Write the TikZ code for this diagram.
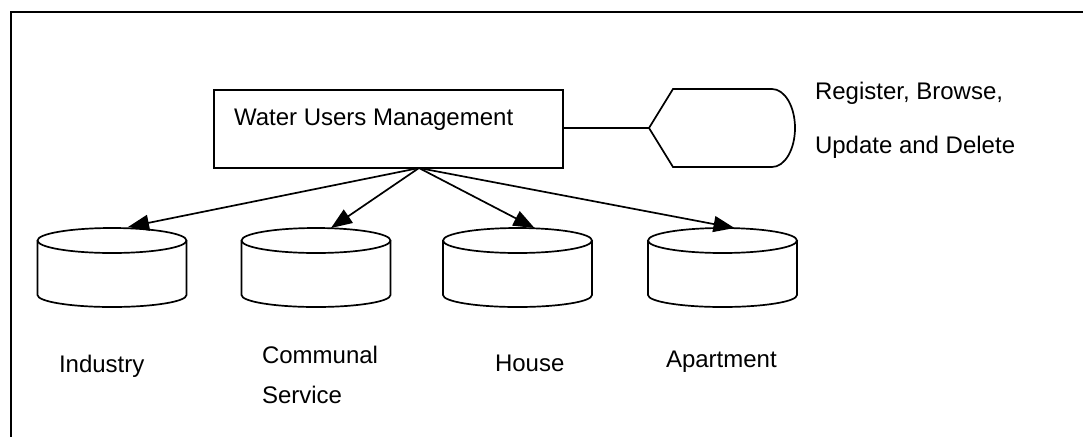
\documentclass[tikz,border=0pt]{standalone}
\usepackage{fontspec}
\setmainfont{Liberation Sans}
\usetikzlibrary{arrows.meta,calc}
\begin{document}
\begin{tikzpicture}[x=1pt,y=1pt,
  every node/.style={inner sep=0pt, outer sep=0pt},
  ln/.style={line width=1.7pt, black},
  lbl/.style={font=\fontsize{24}{28}\selectfont, anchor=west},
  cylbox/.style={minimum width=149pt, minimum height=79pt, draw=none},
  arr/.style={ln, -{Triangle[length=21pt,width=16pt]}}
]
\useasboundingbox (0,0) rectangle (1083,-437);
% frame
\coordinate (fa) at (1083,-12);
\coordinate (fb) at (11,-12);
\coordinate (fc) at (11,-437);
\draw[ln] (fa) -- (fb) -- (fc);

% main box
\node[draw, ln, minimum width=349pt, minimum height=78pt] (wum) at (388.5,-129) {};
\node[lbl] (wumtxt) at (234,-120) {Water Users Management};

% display shape
\node[minimum width=146pt, minimum height=78pt] (disp) at (722,-128) {};
\draw[ln] (disp.west) -- ($(disp.north west)+(24,0)$) -- ($(disp.north east)+(-23,0)$)
  arc[start angle=90, end angle=-90, x radius=23, y radius=39]
  -- ($(disp.south west)+(24,0)$) -- cycle;
\draw[ln] (wum.east |- disp.west) -- (disp.west);

\node[lbl] (t1) at (815,-93) {Register, Browse,};
\node[lbl] (t2) at (815,-147) {Update and Delete};

% cylinders
\foreach \n/\cx in {ind/112, com/316, hou/517.5, apt/722.5}{
  \node[cylbox] (\n) at (\cx,-267.5) {};
  \draw[ln] ($(\n.north)+(0,-12.5)$) ellipse[x radius=74.5, y radius=12.5];
  \draw[ln] ($(\n.north west)+(0,-12.5)$) -- ($(\n.south west)+(0,12)$)
     arc[start angle=180, end angle=360, x radius=74.5, y radius=12]
     -- ($(\n.north east)+(0,-12.5)$);
}

% arrows
\coordinate (src) at ($(wum.south)+(30.5,0)$);
\draw[arr] (src) -- ($(ind.north)+(16,1)$);
\draw[arr] (src) -- ($(com.north)+(15,0)$);
\draw[arr] (src) -- ($(hou.north)+(17,0)$);
\draw[arr] (src) -- ($(apt.north)+(12,0)$);

% labels
\node[lbl] (l1) at (59,-366) {Industry};
\node[lbl] (l2) at (262,-355) {Communal};
\node[lbl] (l3) at (262,-395) {Service};
\node[lbl] (l4) at (495,-363) {House};
\node[lbl] (l5) at (666,-362) {Apartment};
\end{tikzpicture}
\end{document}
